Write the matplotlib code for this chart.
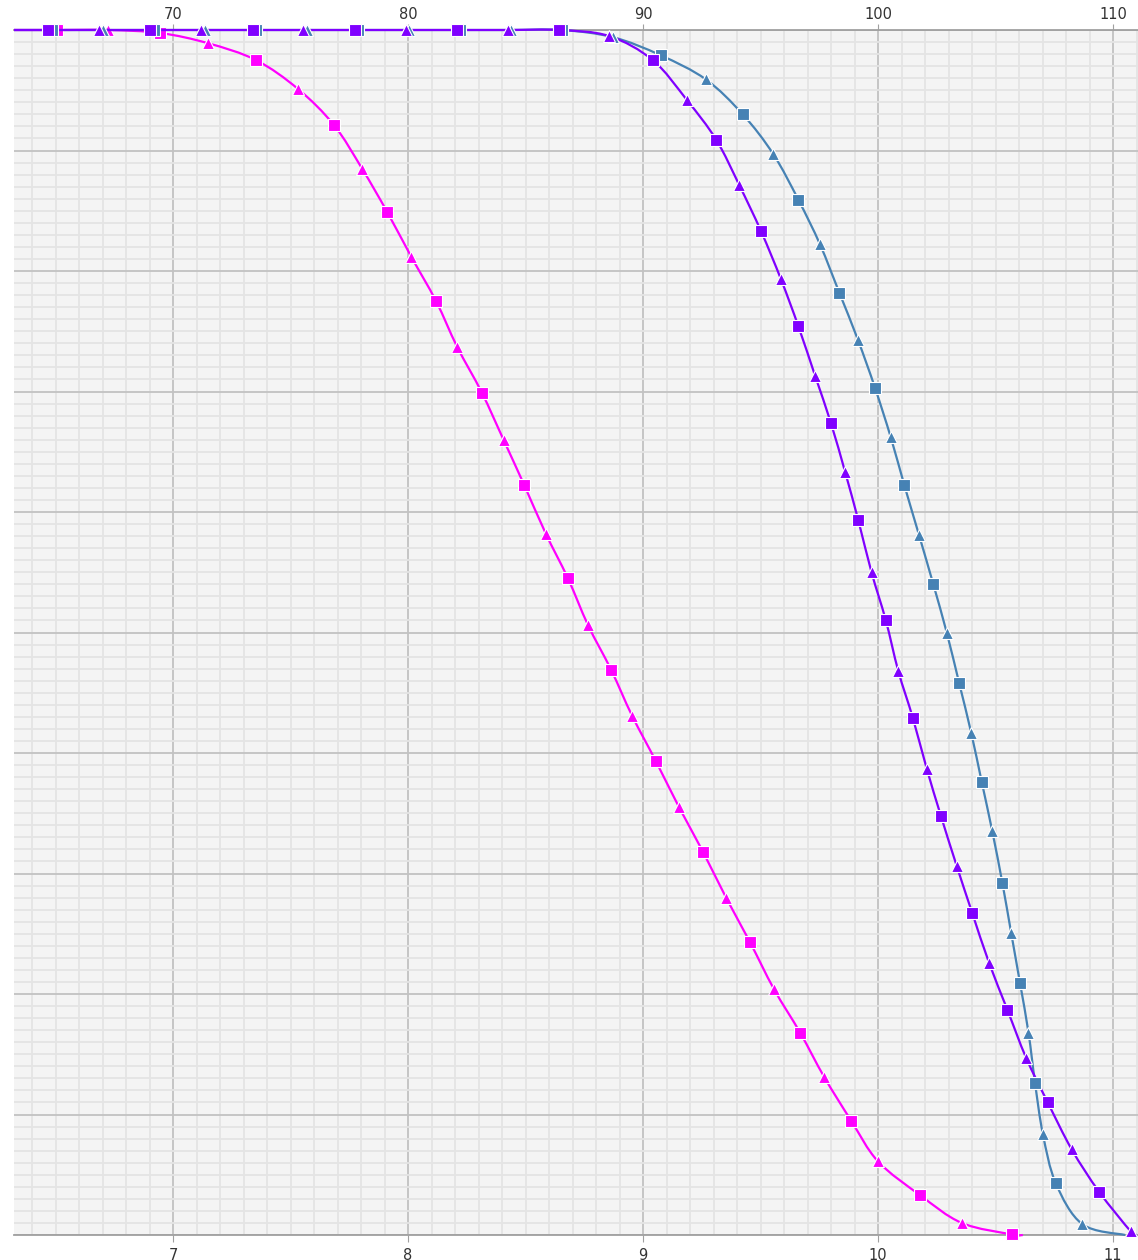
import matplotlib

matplotlib.use("Agg")
import matplotlib.pyplot as plt
import numpy as np
from matplotlib.patches import PathPatch
from matplotlib.path import Path
from matplotlib.ticker import MultipleLocator, NullFormatter

# bottom axis series (magenta), x in bottom-axis units
magenta_x = [6.323, 6.506, 6.723, 6.945, 7.149, 7.353, 7.532, 7.685, 7.804,
             7.911, 8.013, 8.119, 8.209, 8.314, 8.406, 8.495, 8.586, 8.680,
             8.766, 8.864, 8.953, 9.055, 9.153, 9.255, 9.353, 9.455, 9.557,
             9.668, 9.771, 9.885, 10.0, 10.179, 10.356, 10.569, 10.616]
magenta_y = [100, 100, 100, 99.75, 98.9, 97.5, 95.1, 92.1, 88.5,
             84.9, 81.2, 77.5, 73.7, 69.9, 66.0, 62.2, 58.2, 54.5,
             50.6, 46.9, 43.1, 39.3, 35.5, 31.8, 28.0, 24.3, 20.4,
             16.8, 13.1, 9.5, 6.1, 3.3, 1.0, 0.05, 0.0]

# top axis series
blue_x = [63.23, 64.85, 67.02, 69.19, 71.36, 73.53, 75.70, 77.87, 80.04,
          82.21, 84.38, 86.55, 88.72, 90.75, 92.67, 94.24, 95.54, 96.61,
          97.53, 98.35, 99.14, 99.87, 100.54, 101.12, 101.74, 102.35,
          102.92, 103.45, 103.96, 104.41, 104.86, 105.29, 105.66, 106.04,
          106.40, 106.68, 107.01, 107.56, 108.69, 110.51]
blue_y = [100, 100, 100, 100, 100, 100, 100, 100, 100,
          100, 100, 100, 99.4, 97.9, 95.9, 93.0, 89.7, 85.9,
          82.2, 78.2, 74.3, 70.3, 66.2, 62.2, 58.1, 54.0,
          50.0, 45.8, 41.7, 37.6, 33.5, 29.2, 25.1, 20.9,
          16.8, 12.6, 8.4, 4.3, 0.9, 0.0]

purple_x = [63.23, 64.68, 66.85, 69.02, 71.19, 73.40, 75.53, 77.74, 79.91,
            82.09, 84.26, 86.43, 88.55, 90.41, 91.86, 93.11, 94.10, 95.02,
            95.87, 96.61, 97.32, 97.99, 98.60, 99.16, 99.72, 100.33, 100.86,
            101.48, 102.07, 102.67, 103.35, 104.01, 104.72, 105.50, 106.30,
            107.22, 108.24, 109.40, 110.75, 111.0]
purple_y = [100, 100, 100, 100, 100, 100, 100, 100, 100,
            100, 100, 100, 99.5, 97.5, 94.2, 90.9, 87.1, 83.3,
            79.3, 75.4, 71.3, 67.4, 63.3, 59.3, 55.0, 51.0, 46.8,
            42.9, 38.7, 34.8, 30.6, 26.7, 22.6, 18.7, 14.7,
            11.0, 7.1, 3.6, 0.3, 0.0]

C_MAGENTA = "#ff00ff"
C_BLUE = "#4682b4"
C_PURPLE = "#8000ff"


def smooth_path(xs, ys):
    """Catmull-Rom through the points, drawn as cubic Bezier segments."""
    p = np.column_stack([xs, ys]).astype(float)
    verts = [p[0]]
    codes = [Path.MOVETO]
    n = len(p)
    for i in range(n - 1):
        p0 = p[max(i - 1, 0)]
        p1, p2 = p[i], p[i + 1]
        p3 = p[min(i + 2, n - 1)]
        verts += [p1 + (p2 - p0) / 6, p2 - (p3 - p1) / 6, p2]
        codes += [Path.CURVE4] * 3
    return Path(verts, codes)


def draw_series(ax, xs, ys, color):
    ax.add_patch(PathPatch(smooth_path(xs, ys), facecolor="none",
                           edgecolor=color, lw=1.6, clip_on=False, zorder=3))
    mx, my = xs[1:-1], ys[1:-1]
    ax.plot(mx[0::2], my[0::2], ls="none", marker="s", ms=8, mfc=color,
            mec="white", mew=0.8, clip_on=False, zorder=4)
    ax.plot(mx[1::2], my[1::2], ls="none", marker="^", ms=9, mfc=color,
            mec="white", mew=0.8, clip_on=False, zorder=4)


fig = plt.figure(figsize=(11.38, 12.6), dpi=100)
ax = fig.add_axes([14 / 1138, 1 - 1235 / 1260, 1 - 14 / 1138, 1205 / 1260])
ax.set_facecolor("#f4f4f4")
ax.set_xlim(6.323, 11.106)
ax.set_ylim(0, 100)

ax.xaxis.set_major_locator(MultipleLocator(1))
ax.xaxis.set_minor_locator(MultipleLocator(0.1))
ax.yaxis.set_major_locator(MultipleLocator(10))
ax.yaxis.set_minor_locator(MultipleLocator(1))
ax.grid(which="minor", color="#e4e4e4", lw=1.3)
ax.grid(which="major", color="#c2c2c2", lw=1.3)
ax.set_axisbelow(True)
ax.tick_params(axis="y", which="both", left=False, labelleft=False)
ax.tick_params(axis="x", which="minor", length=0)
ax.tick_params(axis="x", which="major", length=5, color="#a0a0a0",
               labelsize=10.5, labelcolor="#333333", pad=4)
for s in ["left", "right", "top"]:
    ax.spines[s].set_visible(False)
ax.spines["bottom"].set_color("#a0a0a0")
ax.spines["bottom"].set_linewidth(1.3)

ax2 = ax.twiny()
ax2.set_xlim(63.23, 111.06)
ax2.set_ylim(0, 100)
ax2.xaxis.set_major_locator(MultipleLocator(10))
ax2.xaxis.set_minor_locator(MultipleLocator(1))
ax2.xaxis.set_minor_formatter(NullFormatter())
ax2.tick_params(axis="x", which="minor", length=0)
ax2.tick_params(axis="x", which="major", length=4, color="#a0a0a0",
                labelsize=10.5, labelcolor="#333333", pad=2)
for s in ["left", "right", "bottom"]:
    ax2.spines[s].set_visible(False)
ax2.spines["top"].set_color("#a0a0a0")
ax2.spines["top"].set_linewidth(1.3)

draw_series(ax, magenta_x, magenta_y, C_MAGENTA)
draw_series(ax2, blue_x, blue_y, C_BLUE)
draw_series(ax2, purple_x, purple_y, C_PURPLE)

fig.savefig("out.png", dpi=100)
